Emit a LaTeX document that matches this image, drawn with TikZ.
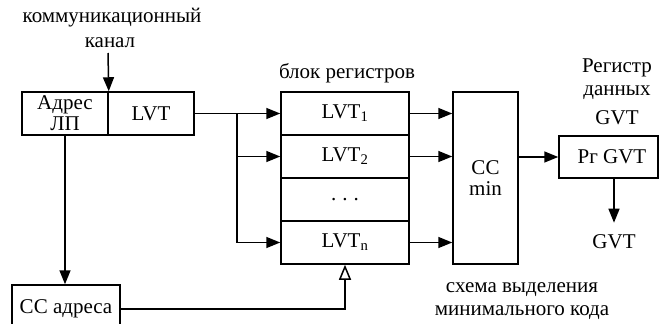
\documentclass[tikz,border=0pt]{standalone}
\usepackage{fontspec}
\setmainfont{Liberation Serif}
\usetikzlibrary{arrows.meta}
\begin{document}
\begin{tikzpicture}[x=1pt,y=-1pt,
  font=\fontsize{21}{21}\selectfont,
  box/.style={draw,line width=1.5pt,inner sep=0pt,align=center},
  lbl/.style={inner sep=0pt,align=center},
  wire/.style={line width=1.5pt},
  arr/.style={wire,-{Triangle[length=14pt,width=11pt]}},
  oarr/.style={wire,-{Triangle[open,length=15pt,width=12pt,line width=1.5pt]}}]
\useasboundingbox (0,0) rectangle (659,324);

% input register: address and local virtual time
\node[box,minimum width=86pt,minimum height=43pt] (addr) at (65,113.5) {\fontsize{21}{19}\selectfont Адрес\\ЛП};
\node[box,minimum width=86pt,minimum height=43pt] (lvt) at (151,113.5) {LVT};
\node[lbl] (chan1) at (112,18) {коммуникационный};
\node[lbl] (chan2) at (110,43) {канал};
\coordinate (chtop) at (108,53);

% address decoder
\node[box,minimum width=108pt,minimum height=48pt] (cca) at (66,309) {СС адреса};

% block of registers
\node[lbl] (blk) at (347,73) {блок регистров};
\node[box,minimum width=128pt,minimum height=43pt] (r1) at (345,113.5) {LVT\textsubscript{1}};
\node[box,minimum width=128pt,minimum height=43pt] (r2) at (345,156.5) {LVT\textsubscript{2}};
\node[box,minimum width=128pt,minimum height=43pt] (rd) at (345,199.5) {.\hspace{6pt}.\hspace{6pt}.};
\node[box,minimum width=128pt,minimum height=43pt] (rn) at (345,242.5) {LVT\textsubscript{n}};

% minimum selector
\node[box,minimum width=65pt,minimum height=172pt] (cc) at (485.5,178) {СС\\min};
\node[lbl] (sel1) at (522,290) {схема выделения};
\node[lbl] (sel2) at (522,313) {минимального кода};

% GVT data register
\node[lbl] (reg1) at (617,68) {Регистр};
\node[lbl] (reg2) at (617,93) {данных};
\node[lbl] (reg3) at (617,118) {GVT};
\node[box,minimum width=99pt,minimum height=42pt] (pr) at (608.5,157) {\hspace*{7pt}Рг GVT};
\node[lbl] (gvt) at (614,242) {GVT};
\coordinate (prout) at (614,178);

% connections
\draw[arr] (chtop) -- (addr.north east);
\coordinate (br) at (237,113.5);
\draw[arr] (lvt.east) -- (r1.west);
\draw[wire] (br) -- (br |- rn.west);
\draw[arr] (br |- r2.west) -- (r2.west);
\draw[arr] (br |- rn.west) -- (rn.west);
\draw[arr] (addr.south) -- (addr.south |- cca.north);
\draw[oarr] (cca.east) -| (rn.south);
\draw[arr] (r1.east) -- (cc.west |- r1.east);
\draw[arr] (r2.east) -- (cc.west |- r2.east);
\draw[arr] (rn.east) -- (cc.west |- rn.east);
\draw[arr] (cc.east |- pr.west) -- (pr.west);
\draw[arr] (prout) -- ([yshift=12pt]gvt.north);
\end{tikzpicture}
\end{document}
